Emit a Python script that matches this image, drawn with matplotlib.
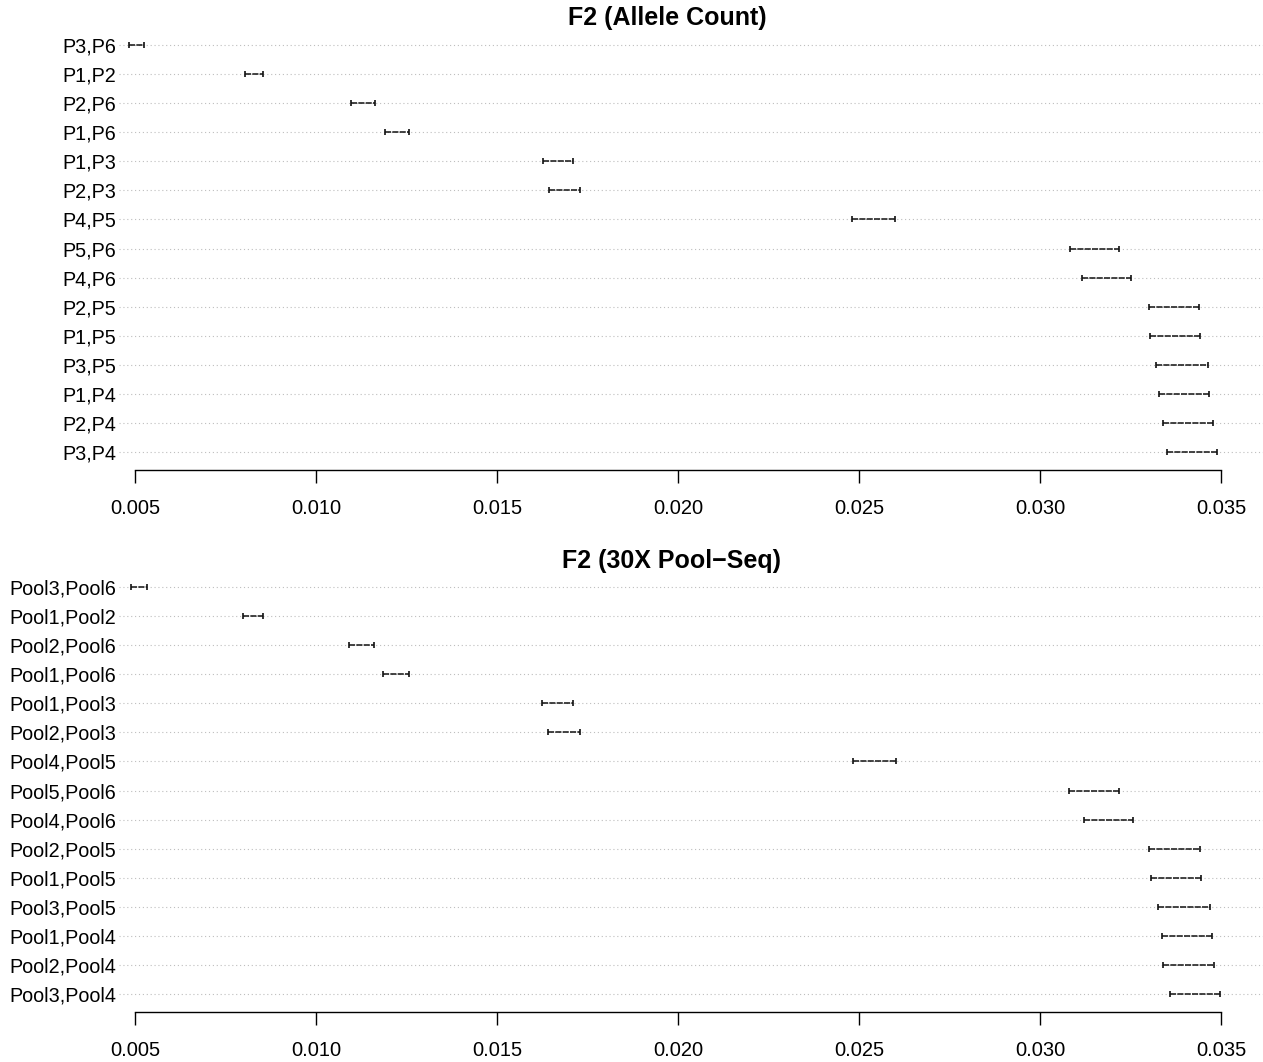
import matplotlib
matplotlib.use("Agg")
import matplotlib.pyplot as plt

plt.rcParams["font.family"] = ["Liberation Sans", "DejaVu Sans"]

# 数据：区间下限 / 上限（自上而下的顺序）
labels_ac = ["P3,P6", "P1,P2", "P2,P6", "P1,P6", "P1,P3", "P2,P3", "P4,P5", "P5,P6",
             "P4,P6", "P2,P5", "P1,P5", "P3,P5", "P1,P4", "P2,P4", "P3,P4"]
lo_ac = [0.00484, 0.00803, 0.01098, 0.01191, 0.01627, 0.01644, 0.02482, 0.03083,
         0.03117, 0.03302, 0.03305, 0.03321, 0.03330, 0.03339, 0.03350]
hi_ac = [0.00526, 0.00854, 0.01162, 0.01258, 0.01711, 0.01729, 0.02599, 0.03218,
         0.03251, 0.03440, 0.03442, 0.03463, 0.03466, 0.03477, 0.03490]

labels_ps = ["Pool3,Pool6", "Pool1,Pool2", "Pool2,Pool6", "Pool1,Pool6", "Pool1,Pool3",
             "Pool2,Pool3", "Pool4,Pool5", "Pool5,Pool6", "Pool4,Pool6", "Pool2,Pool5",
             "Pool1,Pool5", "Pool3,Pool5", "Pool1,Pool4", "Pool2,Pool4", "Pool3,Pool4"]
lo_ps = [0.00488, 0.00798, 0.01092, 0.01184, 0.01625, 0.01642, 0.02484, 0.03081,
         0.03122, 0.03300, 0.03306, 0.03325, 0.03337, 0.03341, 0.03359]
hi_ps = [0.00532, 0.00854, 0.01159, 0.01256, 0.01710, 0.01728, 0.02603, 0.03219,
         0.03258, 0.03442, 0.03445, 0.03469, 0.03476, 0.03481, 0.03497]

xticks = [0.005, 0.010, 0.015, 0.020, 0.025, 0.030, 0.035]

W, H = 1263, 1062
fig = plt.figure(figsize=(W / 100, H / 100), dpi=100)


def panel(top_px, bottom_px, labels, lo, hi, title, title_x, title_y):
    ax = fig.add_axes([119 / W, 1 - bottom_px / H, (W - 119) / W, (bottom_px - top_px) / H])
    n = len(labels)
    ys = list(range(n, 0, -1))
    ax.hlines(ys, 0, 1, transform=ax.get_yaxis_transform(), colors="#bebebe",
              linestyles=(0, (1, 2.5)), linewidth=0.8, zorder=1)
    ax.hlines(ys, lo, hi, colors="#111111", linestyles=(0, (4, 0.8)), linewidth=1.1, zorder=2)
    ax.plot(lo, ys, ls="none", marker="|", ms=4, mew=1.2, color="#111111", zorder=3)
    ax.plot(hi, ys, ls="none", marker="|", ms=4, mew=1.2, color="#111111", zorder=3)

    ax.set_xlim(0.005 - 16 / 36200, 0.005 + 1128 / 36200)
    ax.set_ylim(1 - 18 / 29.07, 1 - 18 / 29.07 + (bottom_px - top_px) / 29.07)
    ax.set_yticks(ys)
    ax.set_yticklabels(labels, fontsize=14.2)
    ax.tick_params(axis="y", length=0, pad=2)
    ax.set_xticks(xticks)
    ax.set_xticklabels(["%.3f" % t for t in xticks], fontsize=14.5)
    ax.tick_params(axis="x", length=9, width=1, pad=12)
    for s in ["top", "right", "left"]:
        ax.spines[s].set_visible(False)
    ax.spines["bottom"].set_bounds(0.005, 0.035)
    ax.spines["bottom"].set_linewidth(1)
    fig.text(title_x / W, 1 - title_y / H, title, fontsize=18, fontweight="bold",
             ha="center", va="center")
    return ax


panel(30, 470, labels_ac, lo_ac, hi_ac, "F2 (Allele Count)", 667, 18)
panel(572, 1012, labels_ps, lo_ps, hi_ps, "F2 (30X Pool\u2212Seq)", 672, 561)

fig.savefig("out.png", dpi=100)
